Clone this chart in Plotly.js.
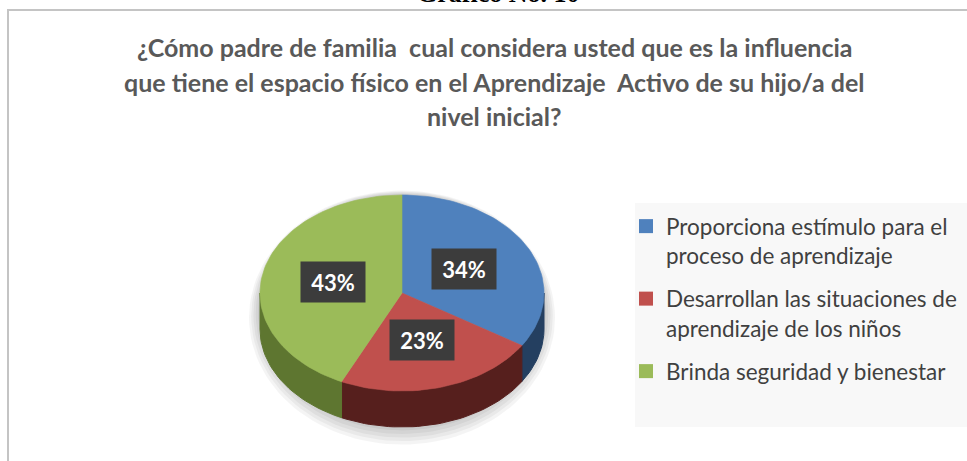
<!DOCTYPE html>
<html>
<head>
<meta charset="utf-8">
<script src="https://cdn.plot.ly/plotly-3.0.1.min.js"></script>
<style>html,body{margin:0;padding:0;background:#fff;}#chart{width:967px;height:461px;}</style>
</head>
<body>
<div id="chart"></div>
<script>
// ---- data ----
const categories = ["Proporciona estímulo para el proceso de aprendizaje", "Desarrollan las situaciones de aprendizaje de los niños", "Brinda seguridad y bienestar"];
const legendLabels = ["Proporciona estímulo para el<br>proceso de aprendizaje", "Desarrollan las situaciones de<br>aprendizaje de los niños", "Brinda seguridad y bienestar"];
const values = [34, 23, 43];
const pctLabels = ["34%", "23%", "43%"];
const titleLines = ["¿Cómo padre de familia  cual considera usted que es la influencia", "que tiene el espacio físico en el Aprendizaje  Activo de su hijo/a del", "nivel inicial?"];
const captionText = "Gráfico No. 10";

// ---- style ----
const topColors = ["#4f81bd", "#c0504d", "#9bbb59"];
const sideColors = ["#243f60", "#561f1d", "#5e7630"];
const CX = 402, CY = 293, RX = 142, RY = 98, DEPTH = 36;

function pt(deg, frac, dy) {
  const r = deg * Math.PI / 180;
  return [CX + frac * RX * Math.sin(r), CY - frac * RY * Math.cos(r) + (dy || 0)];
}
function arc(a0, a1, dy) {
  const n = Math.max(2, Math.ceil(Math.abs(a1 - a0) / 2));
  const out = [];
  for (let i = 0; i <= n; i++) out.push(pt(a0 + (a1 - a0) * i / n, 1, dy));
  return out;
}

const total = values.reduce((a, b) => a + b, 0);
const starts = [], ends = [];
let acc = 0;
values.forEach(v => { starts.push(acc / total * 360); acc += v; ends.push(acc / total * 360); });

const traces = [];
// soft shadow
for (let k = 1; k <= 5; k++) {
  const ext = k * 2.2;
  const xs = [], ys = [];
  for (let d = 0; d <= 360; d += 3) {
    const r = d * Math.PI / 180;
    xs.push(CX + (RX + ext) * Math.sin(r));
    ys.push(CY + DEPTH / 2 + ext * 0.6 - (RY + DEPTH / 2 + ext) * Math.cos(r));
  }
  traces.push({x: xs, y: ys, type: 'scatter', mode: 'lines', fill: 'toself', fillcolor: 'rgba(0,0,0,0.045)', line: {width: 0, color: 'rgba(0,0,0,0)'}, hoverinfo: 'skip', showlegend: false});
}
// side walls
values.forEach((v, i) => {
  const s0 = Math.max(starts[i], 90), s1 = Math.min(ends[i], 270);
  if (s1 <= s0) return;
  const top = arc(s0, s1, 0), bot = arc(s1, s0, DEPTH);
  const pts = top.concat(bot);
  pts.push(top[0]);
  traces.push({x: pts.map(p => p[0]), y: pts.map(p => p[1]), type: 'scatter', mode: 'lines', fill: 'toself', fillcolor: sideColors[i], line: {width: 1, color: sideColors[i]}, hoverinfo: 'skip', showlegend: false});
});
// top faces
values.forEach((v, i) => {
  const pts = [[CX, CY]].concat(arc(starts[i], ends[i], 0));
  pts.push([CX, CY]);
  traces.push({x: pts.map(p => p[0]), y: pts.map(p => p[1]), type: 'scatter', mode: 'lines', fill: 'toself', fillcolor: topColors[i], line: {width: 0.6, color: topColors[i]}, name: categories[i], hoverinfo: 'name', showlegend: false});
});
// legend entries
values.forEach((v, i) => {
  traces.push({x: [null], y: [null], type: 'scatter', mode: 'markers', marker: {symbol: 'square', size: 14, color: topColors[i]}, name: legendLabels[i], legendgroup: 'g' + i, showlegend: true, hoverinfo: 'skip'});
});

const annotations = [];
values.forEach((v, i) => {
  const p = pt((starts[i] + ends[i]) / 2, 0.5, 0);
  annotations.push({x: p[0], y: p[1], xref: 'x', yref: 'y', text: '<b>' + pctLabels[i] + '</b>', showarrow: false,
    font: {family: 'Lato, sans-serif', size: 22, color: '#ffffff'}, bgcolor: '#3c3c3c', width: 50, height: 26, borderpad: 7});
});
const titleY = [47, 82, 116];
titleLines.forEach((t, i) => {
  annotations.push({x: 494, y: titleY[i], xref: 'x', yref: 'y', text: '<b>' + t + '</b>', showarrow: false,
    font: {family: 'Lato, sans-serif', size: 25, color: '#595959'}, xanchor: 'center', yanchor: 'middle'});
});
annotations.push({x: 498, y: 10, xref: 'x', yref: 'y', text: '<b>' + captionText + '</b>', showarrow: false, yanchor: 'bottom',
  font: {family: 'Liberation Serif, Times New Roman, serif', size: 26, color: '#000000'}});

const layout = {
  width: 967, height: 461,
  margin: {l: 0, r: 0, t: 0, b: 0, pad: 0},
  paper_bgcolor: '#ffffff', plot_bgcolor: '#ffffff',
  xaxis: {range: [0, 967], visible: false, fixedrange: true},
  yaxis: {range: [461, 0], visible: false, fixedrange: true},
  showlegend: true,
  legend: {x: 626 / 967, y: 1 - 205 / 461, xanchor: 'left', yanchor: 'top', bgcolor: 'rgba(0,0,0,0)',
    font: {family: 'Lato, sans-serif', size: 22.5, color: '#404040'}, valign: 'top', tracegroupgap: 11, itemwidth: 30},
  shapes: [
    {type: 'rect', xref: 'x', yref: 'y', x0: 635, x1: 967, y0: 203, y1: 427, fillcolor: '#f8f8f8', line: {width: 0}, layer: 'below'},
    {type: 'line', xref: 'x', yref: 'y', x0: 7, x1: 967, y0: 10, y1: 10, line: {color: '#c4c4c4', width: 2}},
    {type: 'line', xref: 'x', yref: 'y', x0: 8, x1: 8, y0: 9, y1: 461, line: {color: '#c4c4c4', width: 2}}
  ],
  annotations: annotations,
  hovermode: 'closest'
};

Plotly.newPlot('chart', traces, layout, {displayModeBar: false, staticPlot: true});
</script>
</body>
</html>
